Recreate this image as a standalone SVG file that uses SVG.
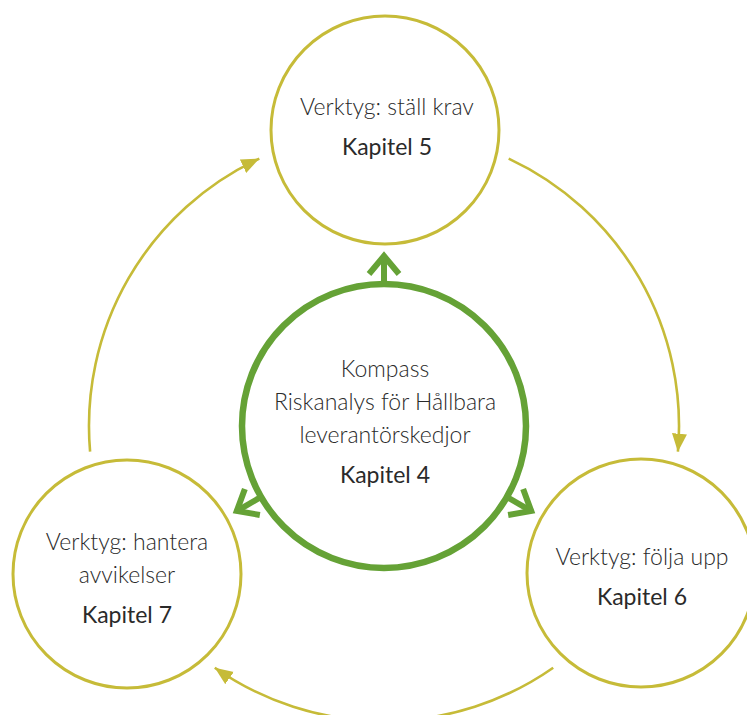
<svg xmlns="http://www.w3.org/2000/svg" xmlns:xlink="http://www.w3.org/1999/xlink" width="747" height="715" viewBox="0 0 747 715">
  <defs>
    <style>
      .node { fill: #ffffff; stroke: #c6bb38; stroke-width: 3; }
      .hub { fill: #ffffff; stroke: #65a236; stroke-width: 6.5; }
      .arc { fill: none; stroke: #c6bb38; stroke-width: 2.6; }
      .garrow { fill: none; stroke: #65a236; stroke-width: 6; stroke-linejoin: miter; }
      text { font-family: "Lato", "Noto Sans", "Liberation Sans", sans-serif; text-anchor: middle; fill: #2a2a2a; }
      .lt { font-size: 23px; font-weight: 300; }
      .ch { font-size: 23px; font-weight: 400; }
    </style>
    <marker id="ah" markerUnits="userSpaceOnUse" markerWidth="20" markerHeight="16" refX="18" refY="7.5" orient="auto" viewBox="0 0 20 16">
      <path d="M0,0 L18,7.5 L0,15 Z" fill="#c6bb38"/>
    </marker>
    <g id="garrow">
      <line x1="0" y1="-142" x2="0" y2="-171"/>
      <polyline points="-15,-152 0,-170 15,-152"/>
    </g>
  </defs>

  <g id="connectors">
    <path class="arc" d="M508.7,158.6 A295,295 0 0 1 677.9,451.7" marker-end="url(#ah)"/>
    <path class="arc" d="M553.2,667.7 A295,295 0 0 1 214.8,667.7" marker-end="url(#ah)"/>
    <path class="arc" d="M90.1,451.7 A295,295 0 0 1 259.3,158.6" marker-end="url(#ah)"/>
    <g class="garrow">
      <use xlink:href="#garrow" transform="translate(384,426)"/>
      <use xlink:href="#garrow" transform="translate(384,426) rotate(120)"/>
      <use xlink:href="#garrow" transform="translate(384,426) rotate(240)"/>
    </g>
  </g>

  <g id="node-kapitel5">
    <circle class="node" cx="385" cy="130" r="114"/>
    <text class="lt" x="387" y="115">Verktyg: ställ krav</text>
    <text class="ch" x="387" y="155">Kapitel 5</text>
  </g>

  <g id="node-kapitel4">
    <circle class="hub" cx="384" cy="426" r="142"/>
    <text class="lt" x="385" y="377">Kompass</text>
    <text class="lt" x="385" y="410">Riskanalys för Hållbara</text>
    <text class="lt" x="385" y="443">leverantörskedjor</text>
    <text class="ch" x="385" y="483">Kapitel 4</text>
  </g>

  <g id="node-kapitel6">
    <circle class="node" cx="641" cy="573" r="114"/>
    <text class="lt" x="642" y="565">Verktyg: följa upp</text>
    <text class="ch" x="642" y="605">Kapitel 6</text>
  </g>

  <g id="node-kapitel7">
    <circle class="node" cx="127" cy="574" r="114"/>
    <text class="lt" x="127" y="550">Verktyg: hantera</text>
    <text class="lt" x="127" y="583">avvikelser</text>
    <text class="ch" x="127" y="623">Kapitel 7</text>
  </g>
</svg>
